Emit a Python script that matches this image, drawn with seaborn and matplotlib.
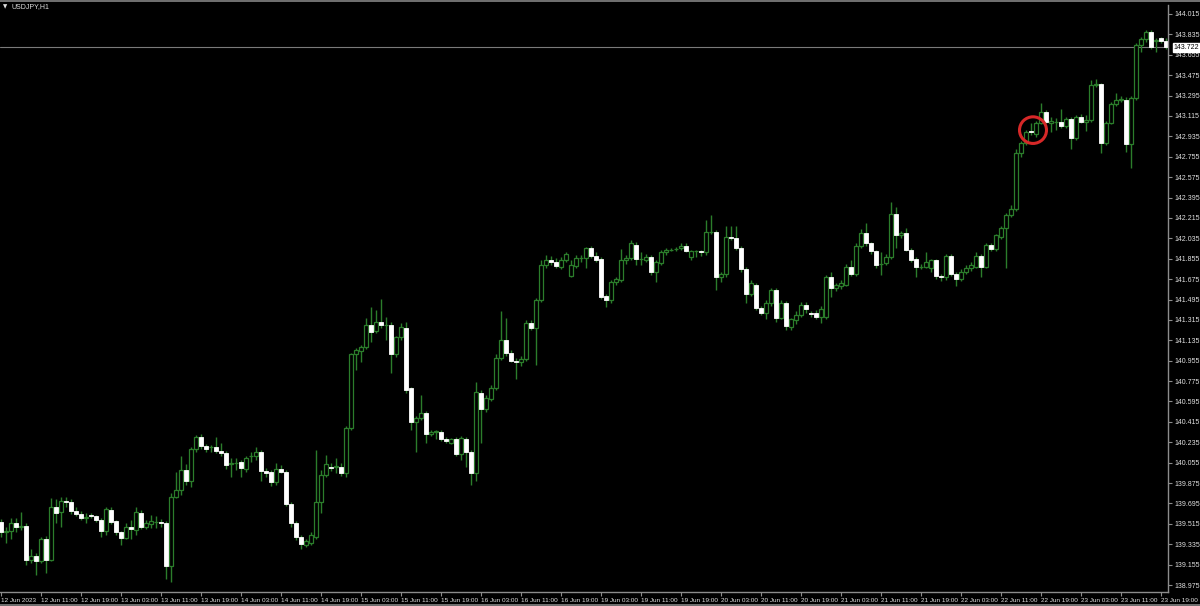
import matplotlib
matplotlib.use("Agg")
import matplotlib.pyplot as plt
import seaborn as sns
import numpy as np
import pandas as pd
from matplotlib.patches import Ellipse, Rectangle

# ---------------- data (USDJPY, H1) ----------------
opens = [
    139.53,139.44,139.45,139.52,139.49,139.50,139.20,139.23,139.19,139.38,
    139.20,139.66,139.62,139.72,139.71,139.63,139.60,139.57,139.59,139.58,
    139.55,139.45,139.64,139.54,139.44,139.39,139.49,139.46,139.61,139.49,
    139.51,139.53,139.53,139.52,139.14,139.75,139.81,139.99,139.89,140.18,
    140.28,140.20,140.19,140.19,140.16,140.14,140.04,140.05,140.06,140.00,
    140.11,140.11,140.15,139.98,139.97,139.88,140.00,139.97,139.69,139.52,
    139.40,139.33,139.35,139.40,139.71,139.95,140.02,140.02,140.02,139.96,
    140.36,141.01,141.04,141.08,141.27,141.22,141.30,141.27,141.27,141.01,
    141.16,141.24,140.71,140.41,140.45,140.49,140.31,140.33,140.33,140.26,
    140.23,140.26,140.13,140.26,140.15,139.96,140.67,140.53,140.62,140.71,
    140.98,141.14,141.02,140.95,140.94,140.97,141.29,141.24,141.49,141.80,
    141.84,141.83,141.78,141.84,141.70,141.79,141.86,141.86,141.95,141.88,
    141.85,141.53,141.49,141.65,141.67,141.84,141.86,141.98,141.85,141.84,
    141.87,141.74,141.82,141.91,141.93,141.94,141.95,141.97,141.87,141.92,
    141.92,141.91,142.09,142.09,141.69,141.72,142.05,142.04,141.95,141.76,
    141.54,141.62,141.42,141.38,141.46,141.58,141.33,141.46,141.25,141.31,
    141.36,141.45,141.38,141.38,141.34,141.34,141.69,141.60,141.61,141.62,
    141.78,141.72,141.97,142.08,141.99,141.92,141.81,141.82,141.87,142.25,
    142.06,142.08,141.93,141.85,141.78,141.78,141.77,141.84,141.70,141.69,
    141.88,141.72,141.68,141.74,141.77,141.78,141.88,141.78,141.98,141.94,
    142.05,142.13,142.24,142.29,142.79,142.88,142.98,142.96,143.05,143.15,
    143.05,143.06,143.06,143.03,143.09,142.92,143.11,143.06,143.08,143.39,
    143.40,142.88,143.05,143.22,143.26,143.26,142.87,143.27,143.74,143.79,
    143.86,143.78,143.80,143.78,
]
highs = [
    139.56,139.49,139.57,139.57,139.62,139.52,139.29,139.26,139.40,139.41,
    139.74,139.73,139.75,139.75,139.73,139.66,139.63,139.61,139.61,139.59,
    139.57,139.66,139.66,139.55,139.45,139.52,139.55,139.66,139.64,139.55,
    139.59,139.58,139.56,139.54,139.79,139.97,140.11,140.04,140.19,140.30,
    140.31,140.22,140.21,140.28,140.23,140.16,140.10,140.10,140.08,140.11,
    140.15,140.19,140.17,140.01,139.99,140.05,140.03,139.99,139.71,139.54,
    139.42,139.38,139.44,140.17,139.99,140.12,140.05,140.10,140.05,140.38,
    141.02,141.07,141.09,141.33,141.43,141.40,141.50,141.34,141.30,141.17,
    141.29,141.30,140.72,140.47,140.65,140.51,140.34,140.34,140.34,140.28,
    140.27,140.28,140.29,140.28,140.17,140.77,140.70,140.65,140.74,141.01,
    141.39,141.33,141.05,140.98,141.00,141.31,141.31,141.51,141.84,141.89,
    141.88,141.86,141.87,141.91,141.84,141.89,141.89,141.96,141.97,141.91,
    141.87,141.54,141.67,141.69,141.94,141.89,142.02,142.00,141.91,141.90,
    141.89,141.84,141.93,141.95,141.95,141.96,141.99,141.99,141.93,141.93,
    141.93,142.20,142.24,142.11,141.74,142.14,142.14,142.14,141.97,141.78,
    141.67,141.64,141.44,141.49,141.60,141.60,141.49,141.48,141.33,141.39,
    141.47,141.47,141.39,141.40,141.44,141.71,141.74,141.64,141.67,141.81,
    141.84,141.99,142.12,142.17,142.00,141.93,141.91,141.90,142.36,142.31,
    142.10,142.13,141.95,141.87,141.81,141.91,141.85,141.85,141.72,141.90,
    141.90,141.74,141.76,141.80,141.83,141.91,141.90,141.99,141.99,142.07,
    142.14,142.26,142.33,142.82,142.89,142.99,143.05,143.07,143.23,143.17,
    143.11,143.10,143.18,143.11,143.11,143.12,143.13,143.12,143.43,143.44,
    143.41,143.07,143.24,143.32,143.29,143.28,143.29,143.76,143.81,143.87,
    143.87,143.80,143.81,143.80,
]
lows = [
    139.40,139.35,139.38,139.44,139.46,139.15,139.17,139.06,139.17,139.08,
    139.19,139.52,139.49,139.66,139.60,139.58,139.55,139.52,139.57,139.53,
    139.40,139.42,139.51,139.42,139.33,139.38,139.38,139.42,139.47,139.47,
    139.48,139.48,139.49,139.03,139.00,139.74,139.77,139.86,139.84,140.15,
    140.18,140.15,140.15,140.14,140.11,140.00,139.93,139.99,139.93,139.97,
    140.06,140.08,139.89,139.93,139.85,139.86,139.96,139.67,139.49,139.37,
    139.29,139.31,139.33,139.38,139.61,139.93,139.98,139.96,139.94,139.93,
    140.34,140.87,140.94,141.06,141.12,141.20,141.24,141.14,140.85,140.99,
    141.14,140.67,140.34,140.15,140.43,140.23,140.29,140.26,140.25,140.23,
    140.22,140.11,140.08,140.02,139.86,139.89,140.23,140.50,140.60,140.70,
    140.96,141.00,140.94,140.79,140.91,140.95,141.23,140.92,141.47,141.77,
    141.80,141.77,141.76,141.83,141.69,141.77,141.83,141.77,141.86,141.83,
    141.50,141.43,141.46,141.62,141.65,141.81,141.84,141.80,141.80,141.83,
    141.71,141.65,141.80,141.89,141.92,141.92,141.93,141.91,141.84,141.87,
    141.88,141.89,142.07,141.58,141.65,141.69,142.02,141.93,141.74,141.46,
    141.53,141.40,141.36,141.32,141.44,141.30,141.32,141.23,141.23,141.28,
    141.34,141.38,141.34,141.32,141.29,141.32,141.52,141.57,141.59,141.61,
    141.70,141.70,141.95,141.97,141.90,141.77,141.71,141.80,141.85,141.95,
    142.04,141.92,141.83,141.69,141.76,141.77,141.74,141.68,141.66,141.67,
    141.70,141.61,141.66,141.72,141.75,141.77,141.69,141.77,141.92,141.92,
    142.03,141.77,142.22,142.28,142.75,142.86,142.95,142.93,143.04,143.05,
    142.97,142.99,143.01,143.01,142.82,142.90,143.05,142.98,143.06,143.37,
    142.79,142.86,143.04,143.20,143.24,142.80,142.66,143.26,143.68,143.77,
    143.71,143.68,143.76,143.71,
]
closes = [
    139.44,139.45,139.52,139.49,139.50,139.20,139.23,139.19,139.38,139.20,
    139.66,139.61,139.72,139.71,139.63,139.60,139.57,139.57,139.58,139.55,
    139.45,139.65,139.53,139.44,139.39,139.49,139.47,139.62,139.49,139.52,
    139.54,139.53,139.52,139.14,139.75,139.81,139.99,139.89,140.18,140.28,
    140.20,140.18,140.19,140.16,140.14,140.03,140.05,140.05,140.01,140.10,
    140.11,140.15,139.98,139.96,139.88,140.00,139.97,139.69,139.52,139.40,
    139.34,139.36,139.42,139.71,139.95,140.04,140.01,140.02,139.96,140.36,
    141.01,141.05,141.08,141.27,141.21,141.30,141.27,141.27,141.01,141.16,
    141.25,140.70,140.41,140.45,140.49,140.31,140.33,140.33,140.26,140.25,
    140.26,140.13,140.27,140.15,139.96,140.68,140.53,140.63,140.71,140.98,
    141.14,141.02,140.95,140.94,140.97,141.29,141.24,141.49,141.80,141.84,
    141.83,141.79,141.84,141.90,141.80,141.86,141.86,141.95,141.88,141.84,
    141.52,141.49,141.65,141.68,141.84,141.86,141.99,141.85,141.85,141.87,
    141.74,141.83,141.91,141.93,141.93,141.94,141.97,141.92,141.92,141.92,
    141.91,142.09,142.09,141.69,141.72,142.05,142.04,141.95,141.76,141.54,
    141.64,141.42,141.38,141.46,141.58,141.33,141.46,141.26,141.32,141.36,
    141.45,141.41,141.37,141.34,141.41,141.69,141.60,141.62,141.64,141.78,
    141.72,141.97,142.08,141.99,141.92,141.80,141.81,141.87,142.25,142.06,
    142.08,141.93,141.84,141.78,141.78,141.83,141.84,141.70,141.69,141.88,
    141.72,141.68,141.74,141.77,141.80,141.88,141.78,141.98,141.94,142.06,
    142.13,142.24,142.29,142.79,142.88,142.97,142.97,143.05,143.15,143.06,
    143.07,143.06,143.03,143.09,142.92,143.11,143.06,143.08,143.39,143.40,
    142.88,143.05,143.22,143.26,143.26,142.87,143.27,143.74,143.79,143.86,
    143.72,143.78,143.78,143.722,
]

x_tick_labels = [
    "12 Jun 2023", "12 Jun 11:00", "12 Jun 19:00", "13 Jun 03:00", "13 Jun 11:00",
    "13 Jun 19:00", "14 Jun 03:00", "14 Jun 11:00", "14 Jun 19:00", "15 Jun 03:00",
    "15 Jun 11:00", "15 Jun 19:00", "16 Jun 03:00", "16 Jun 11:00", "16 Jun 19:00",
    "19 Jun 03:00", "19 Jun 11:00", "19 Jun 19:00", "20 Jun 03:00", "20 Jun 11:00",
    "20 Jun 19:00", "21 Jun 03:00", "21 Jun 11:00", "21 Jun 19:00", "22 Jun 03:00",
    "22 Jun 11:00", "22 Jun 19:00", "23 Jun 03:00", "23 Jun 11:00", "23 Jun 19:00",
]
bars_per_label = 8
y_ticks = [138.975, 139.155, 139.335, 139.515, 139.695, 139.875, 140.055, 140.235,
           140.415, 140.595, 140.775, 140.955, 141.135, 141.315, 141.495, 141.675,
           141.855, 142.035, 142.215, 142.395, 142.575, 142.755, 142.935, 143.115,
           143.295, 143.475, 143.655, 143.835, 144.015]
current_price = 143.722
symbol_title = "USDJPY,H1"
marked_bar = 206          # bar circled in red
marked_price = 142.99

# ---------------- style ----------------
sns.set_theme(style="dark")
plt.rcParams.update({
    "figure.facecolor": "black",
    "axes.facecolor": "black",
    "savefig.facecolor": "black",
    "axes.grid": False,
})
FONTS = ["Liberation Sans Narrow", "Liberation Sans", "DejaVu Sans"]
plt.rcParams["font.family"] = FONTS

BULL_EDGE = "#2b7d2b"
WICK = "#2b7d2b"
BEAR_FILL = "#ffffff"
TXT = "#e0e0e0"
AXC = "#8c8c8c"

df = pd.DataFrame({"open": opens, "high": highs, "low": lows, "close": closes})
df["idx"] = np.arange(len(df))

W, H = 1200, 606
fig = plt.figure(figsize=(W / 100, H / 100), dpi=100)
ax_left, ax_right, ax_top, ax_bot = 0, 1168, 5, 592
ax = fig.add_axes([ax_left / W, (H - ax_bot) / H, (ax_right - ax_left) / W, (ax_bot - ax_top) / H])
ax.set_facecolor("black")

# wicks
lo = np.minimum(df["low"], np.minimum(df["open"], df["close"]))
hi = np.maximum(df["high"], np.maximum(df["open"], df["close"]))
ax.vlines(df["idx"], lo, hi, color=WICK, linewidth=1.0, zorder=1)

# bodies
bull = df["close"] >= df["open"]
bottoms = np.minimum(df["open"], df["close"])
heights = np.maximum((df["close"] - df["open"]).abs(), 0.002)
ax.bar(df["idx"][bull], heights[bull], bottom=bottoms[bull], width=0.62,
       facecolor="black", edgecolor=BULL_EDGE, linewidth=0.9, zorder=2)
ax.bar(df["idx"][~bull], heights[~bull], bottom=bottoms[~bull], width=0.62,
       facecolor=BEAR_FILL, edgecolor=BEAR_FILL, linewidth=0.6, zorder=2)

# current price line
ax.axhline(current_price, color="#7a7a7a", linewidth=0.8, zorder=0)

# red circle marker
ax.add_patch(Ellipse((marked_bar + 0.4, marked_price), width=5.4, height=0.235,
                     fill=False, edgecolor="#d62828", linewidth=2.2, zorder=5))

ax.set_xlim(-0.2, 233.4)
ax.set_ylim(138.9135, 144.0944)

# axes cosmetics
for s in ["left", "top"]:
    ax.spines[s].set_visible(False)
for s in ["right", "bottom"]:
    ax.spines[s].set_visible(True)
    ax.spines[s].set_color(AXC)
    ax.spines[s].set_linewidth(1.0)

ax.yaxis.tick_right()
ax.set_yticks(y_ticks)
ax.set_yticklabels([f"{v:.3f}" for v in y_ticks])
ax.tick_params(axis="y", colors=AXC, labelcolor=TXT, labelsize=5.0, length=3, width=0.8,
               direction="out", pad=2, right=True, left=False)

xt = [i * bars_per_label for i in range(len(x_tick_labels))]
ax.set_xticks(xt)
ax.set_xticklabels(x_tick_labels, ha="left")
ax.tick_params(axis="x", colors=AXC, labelcolor=TXT, labelsize=4.6, length=3, width=0.8,
               direction="out", pad=1.5, bottom=True)
ax.set_xlabel("")
ax.set_ylabel("")

# current price label box on the right axis
ax.annotate(f"{current_price:.3f}", xy=(1.0, current_price), xycoords=("axes fraction", "data"),
            xytext=(4, 0), textcoords="offset points", fontsize=5.0, color="black",
            va="center", ha="left",
            bbox=dict(boxstyle="square,pad=0.15", facecolor="white", edgecolor="white"))

# title
fig.text(3 / W, 1 - 7 / H, "\u25BC", fontsize=4, color=TXT, va="center", ha="left",
         family=["DejaVu Sans"])
fig.text(11 / W, 1 - 7 / H, symbol_title, fontsize=5.0, color=TXT, va="center", ha="left")

# frame strips at top and bottom
fig.add_artist(Rectangle((0, 1 - 2 / H), 1, 2 / H, transform=fig.transFigure,
                         facecolor="#6e6e6e", edgecolor="none"))
fig.add_artist(Rectangle((0, 0), 1, 2 / H, transform=fig.transFigure,
                         facecolor="#6e6e6e", edgecolor="none"))

fig.savefig("out.png", dpi=100, facecolor="black")
